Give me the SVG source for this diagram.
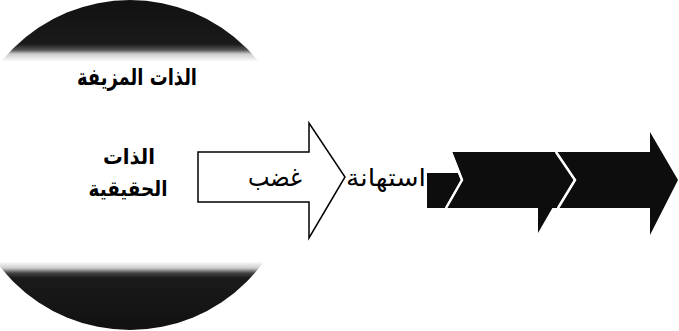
<svg xmlns="http://www.w3.org/2000/svg" width="679" height="331" viewBox="0 0 679 331">
<style>
.lbl{font-family:"DejaVu Sans","Noto Sans",sans-serif;fill:#000;text-anchor:middle}
.b{font-weight:bold}
.dark{fill:#0d0d0d}
.gap{fill:none;stroke:#fff;stroke-width:2.5}
</style>
<defs>
<linearGradient id="capg" x1="0" y1="0" x2="0" y2="331" gradientUnits="userSpaceOnUse">
<stop offset="0" stop-color="#111"/>
<stop offset="0.133" stop-color="#1a1a1a"/>
<stop offset="0.151" stop-color="#555"/>
<stop offset="0.163" stop-color="#ccc"/>
<stop offset="0.187" stop-color="#fff"/>
<stop offset="0.79" stop-color="#fff"/>
<stop offset="0.81" stop-color="#ccc"/>
<stop offset="0.825" stop-color="#444"/>
<stop offset="0.84" stop-color="#1a1a1a"/>
<stop offset="1" stop-color="#111"/>
</linearGradient>
</defs>
<g id="circle">
<circle cx="130" cy="165" r="165" fill="url(#capg)"/>
<text class="lbl b" x="137" y="85" font-size="23" textLength="120" lengthAdjust="spacingAndGlyphs">الذات المزيفة</text>
<text class="lbl b" x="129" y="164" font-size="21" textLength="52" lengthAdjust="spacingAndGlyphs">الذات</text>
<text class="lbl b" x="128" y="196" font-size="21" textLength="79" lengthAdjust="spacingAndGlyphs">الحقيقية</text>
</g>
<g id="connectors">
<g id="arrow-anger">
<polygon points="198,152 309,152 309,123 345,177 309,238 309,202 198,202" fill="#fff" stroke="#000" stroke-width="1.5"/>
<text class="lbl" x="275" y="186" font-size="26" textLength="54" lengthAdjust="spacingAndGlyphs">غضب</text>
</g>
<g id="arrow-dark">
<polygon class="dark" points="538,200 557,200 538,233"/>
<polygon class="dark" points="452,152 555,152 574,180 557,208 447,208 463,180"/>
<polygon class="dark" points="557,152 650,152 650,132 678,180 650,235 650,208 559,208 576,180"/>
<polygon class="dark" points="427,173 458,173 461,180 445,208 427,208"/>
<polyline class="gap" points="451,152 462,180 446,208"/>
<polyline class="gap" points="556,152 575,180 558,208"/>
</g>
</g>
<g id="label-contempt">
<text class="lbl" x="386" y="186" font-size="24" textLength="80" lengthAdjust="spacingAndGlyphs">استهانة</text>
</g>
</svg>
